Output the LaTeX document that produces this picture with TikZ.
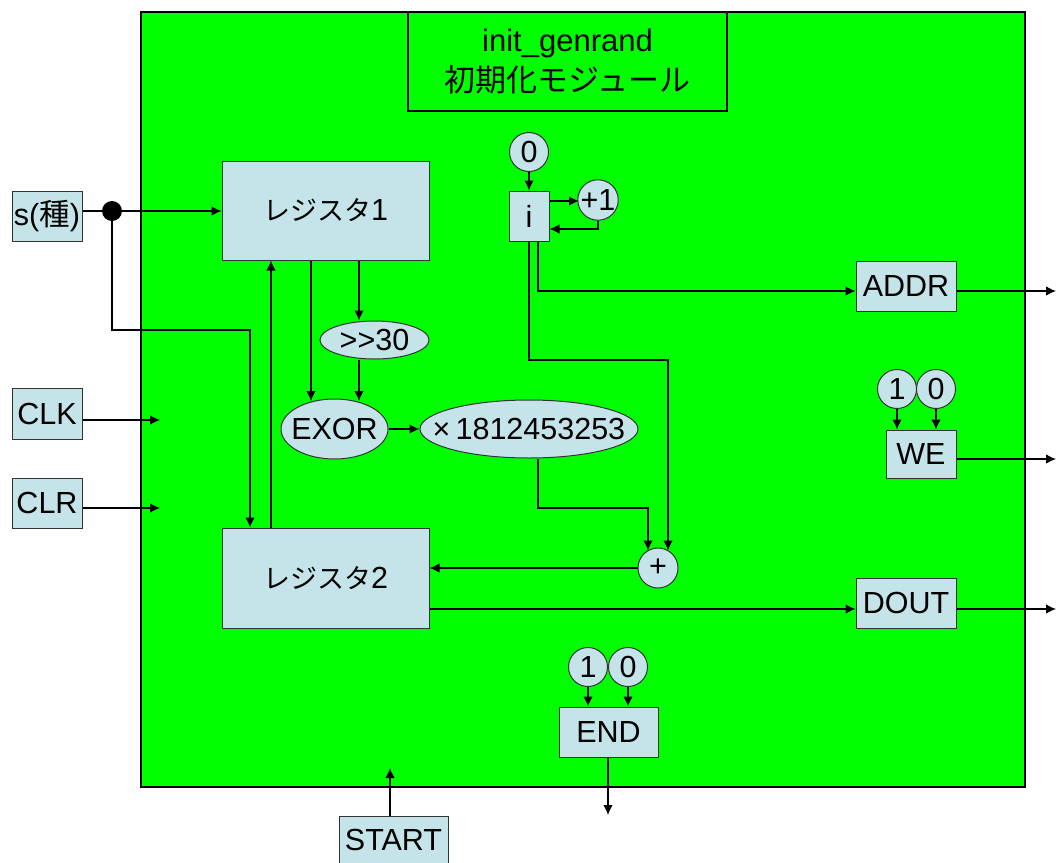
\documentclass[tikz,border=0pt]{standalone}
\usepackage{fontspec}
\setmainfont{Liberation Sans}
\newfontfamily\cjk{Noto Sans CJK JP}
\usetikzlibrary{arrows.meta,shapes.geometric,calc}
\definecolor{gfill}{HTML}{00FF00}
\definecolor{bfill}{HTML}{C5E4EA}
\definecolor{bline}{HTML}{333333}
\tikzset{
  lbl/.style={font=\fontsize{30.5}{34}\selectfont},
  boxn/.style={draw=bline, fill=bfill, line width=1pt, inner sep=0pt, lbl},
  circn/.style={circle, draw=bline, fill=bfill, line width=1pt, inner sep=0pt, minimum size=39pt, lbl},
  elln/.style={ellipse, draw=bline, fill=bfill, line width=1pt, inner sep=0pt, label={[lbl, inner sep=0pt]center:#1}},
  wire/.style={line width=1.2pt, draw=black},
  arr/.style={wire, -{Latex[length=10pt,width=9.5pt]}},
}
\begin{document}
\begin{tikzpicture}[x=1pt,y=-1pt]
\useasboundingbox (0,0) rectangle (1057,862);
% main block
\node[draw=black, fill=gfill, line width=1.2pt, minimum width=884pt, minimum height=775pt, inner sep=0pt] (main) at (583,399.5) {};
\node[draw=black, line width=1.2pt, minimum width=319pt, minimum height=99pt, inner sep=0pt, align=center, font=\fontsize{31}{40}\selectfont] (title) at (567.5,61.5) {init\_genrand\\{\cjk 初期化モジュール}};
% external boxes
\node[boxn, minimum width=70pt, minimum height=50pt] (s) at (47,216) {s({\cjk 種})};
\node[boxn, minimum width=70pt, minimum height=51pt] (clk) at (47,413.5) {CLK};
\node[boxn, minimum width=70pt, minimum height=50pt] (clr) at (47,503) {CLR};
\node[boxn, minimum width=109pt, minimum height=48pt] (start) at (393.5,840) {START};
% registers
\node[boxn, minimum width=207pt, minimum height=99pt] (reg1) at (325.5,210.5) {{\cjk\fontsize{27}{30}\selectfont レジスタ}1};
\node[boxn, minimum width=207pt, minimum height=100pt] (reg2) at (325.5,578) {{\cjk\fontsize{27}{30}\selectfont レジスタ}2};
% ops
\node[elln={>{}>30}, minimum width=109pt, minimum height=38pt] (shr) at (374.5,340) {};
\node[elln={EXOR}, minimum width=107pt, minimum height=60pt] (exor) at (334.5,429) {};
\node[elln={\texttimes\,1812453253}, minimum width=218pt, minimum height=58pt] (mul) at (529,429) {};
\node[circn, minimum size=40pt] (plus) at (658,568) {+};
% counter
\node[circn] (c0) at (529,152) {0};
\node[boxn, minimum width=40pt, minimum height=50pt] (ib) at (529,216) {i};
\node[circn, minimum size=38pt] (p1) at (598,200) {+1};
% outputs
\node[boxn, minimum width=100pt, minimum height=50pt] (addr) at (906,286) {ADDR};
\node[boxn, minimum width=70pt, minimum height=48pt] (we) at (921,454) {WE};
\node[boxn, minimum width=100pt, minimum height=50pt] (dout) at (906,603) {DOUT};
\node[boxn, minimum width=99pt, minimum height=50pt] (endb) at (608.5,732) {END};
\node[circn] (we1) at (897,389) {1};
\node[circn] (we0) at (936,389) {0};
\node[circn] (end1) at (588,667) {1};
\node[circn] (end0) at (628,667) {0};
% junction dot
\node[circle, fill=black, minimum size=20pt, inner sep=0pt] (dot) at (112,211) {};
% free ends
\coordinate (k1) at (250,330);
\coordinate (oclk) at (160,420);
\coordinate (oclr) at (160,508);
\coordinate (ostart) at (390,768);
\coordinate (oend) at (608,815);
\coordinate (oaddr) at (1056,291);
\coordinate (owe) at (1056,459);
\coordinate (odout) at (1056,609);
\coordinate (b1) at (538,508);
\coordinate (b2) at (529,360);
\coordinate (q1) at (579,201);
% connectors
\draw[wire] (s.east |- dot) -- (dot);
\draw[arr] (dot) -- (reg1.west |- dot);
\draw[arr] (dot) |- (k1) -- (k1 |- reg2.north);
\draw[arr] ([xshift=-54.5pt]reg2.north) -- ([xshift=-54.5pt]reg1.south);
\draw[arr] ([xshift=-14.5pt]reg1.south) -- ([xshift=-14.5pt,yshift=-2.5pt]reg1.south |- exor.north);
\draw[arr] ([xshift=33.5pt]reg1.south) -- ([xshift=33.5pt]reg1.south |- shr.north);
\draw[arr] ([xshift=33.5pt]reg1.south |- shr.south) -- ([xshift=33.5pt,yshift=-2.5pt]reg1.south |- exor.north);
\draw[arr] (exor.east |- mul) -- (mul.west);
\draw[arr] ([xshift=9pt]mul.south) -- (b1) -| ([xshift=-10pt,yshift=-3pt]plus.north);
\draw[arr] (ib.south) -- (b2) -| ([xshift=10pt,yshift=-3pt]plus.north);
\draw[arr] ([xshift=9pt]ib.south) |- (addr.west |- oaddr);
\draw[arr] (plus.west) -- (reg2.east |- plus);
\draw[arr] (reg2.east |- odout) -- (dout.west |- odout);
\draw[arr] (addr.east |- oaddr) -- (oaddr);
\draw[arr] (we.east |- owe) -- (owe);
\draw[arr] (dout.east |- odout) -- (odout);
\draw[arr] (we1.south) -- (we1.south |- we.north);
\draw[arr] (we0.south) -- (we0.south |- we.north);
\draw[arr] (end1.south) -- (end1.south |- endb.north);
\draw[arr] (end0.south) -- (end0.south |- endb.north);
\draw[arr] ([xshift=-0.5pt]endb.south) -- (oend);
\draw[arr] (start.north -| ostart) -- (ostart);
\draw[arr] (clk.east |- oclk) -- (oclk);
\draw[arr] (clr.east |- oclr) -- (oclr);
\draw[arr] (c0.south) -- (ib.north);
\draw[arr] ([yshift=15pt]ib.east) -- (q1);
\draw[arr] (p1.south) |- ([yshift=-13pt]ib.east);
\end{tikzpicture}
\end{document}
